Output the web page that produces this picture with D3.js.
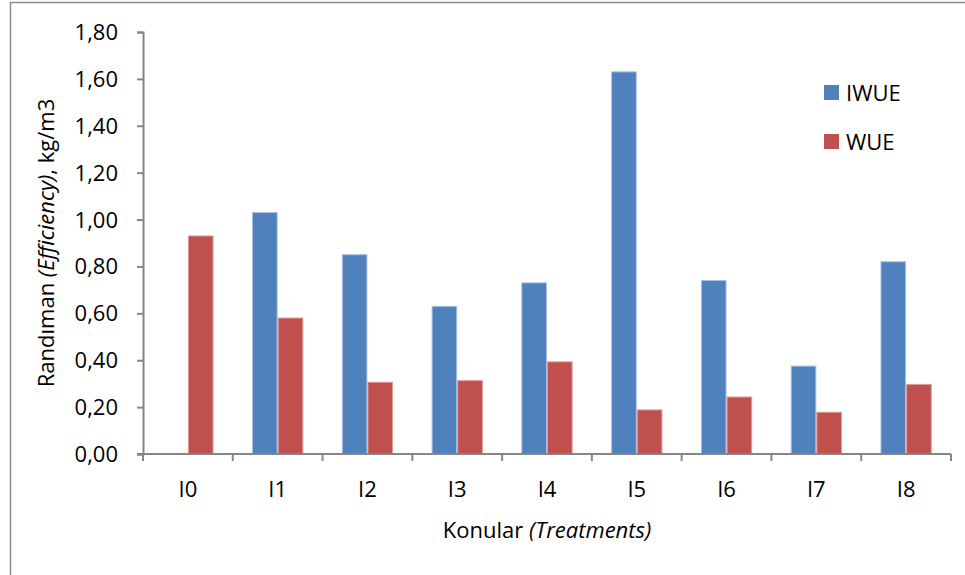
<!DOCTYPE html>
<html>
<head>
<meta charset="UTF-8">
<title>IWUE / WUE</title>
<script src="https://cdn.jsdelivr.net/npm/d3@7"></script>
<style>
  body { margin: 0; background: #fff; }
  svg text { font-family: "Open Sans", "Noto Sans", sans-serif; fill: #000; }
</style>
</head>
<body>
<script>
  // treatments and the two efficiency series (kg/m3)
  const treatments = ["I0", "I1", "I2", "I3", "I4", "I5", "I6", "I7", "I8"];
  const seriesNames = ["IWUE", "WUE"];
  const iwue = [null, 1.03, 0.85, 0.63, 0.73, 1.63, 0.74, 0.375, 0.82];
  const wue = [0.93, 0.58, 0.306, 0.313, 0.393, 0.188, 0.243, 0.178, 0.297];
  const yTicks = [0, 0.2, 0.4, 0.6, 0.8, 1.0, 1.2, 1.4, 1.6, 1.8];

  const colors = { IWUE: "#4F81BD", WUE: "#C0504D" };
  const edges = { IWUE: "#a9c1e0", WUE: "#dd9c9a" };

  const w = 965, h = 575;
  const plotL = 143, plotR = 951, plotT = 32, plotB = 454;
  const fs = "22px";

  // one row per treatment, built from the arrays above
  const rows = treatments.map((t, i) => ({ t: t, IWUE: iwue[i], WUE: wue[i] }));

  const svg = d3.select("body").append("svg")
    .attr("width", w)
    .attr("height", h);

  // outer chart frame (runs off the right and bottom of the picture)
  svg.append("rect")
    .attr("x", 10.5).attr("y", 2.5)
    .attr("width", 1000).attr("height", 1000)
    .style("fill", "none")
    .style("stroke", "#8c8c8c")
    .style("stroke-width", 1.5);

  const x = d3.scaleBand().domain(treatments).range([plotL, plotR]);
  const bw = x.bandwidth();
  // Excel style gap width of 150%
  const gap = bw * 1.5 / 3.5;
  const xSub = d3.scaleBand().domain(seriesNames).range([gap / 2, bw - gap / 2]);
  const y = d3.scaleLinear().domain([0, 1.8]).range([plotB, plotT]);

  // bars
  const groups = svg.selectAll("g.grp")
    .data(rows)
    .enter().append("g")
    .attr("class", "grp")
    .attr("transform", d => "translate(" + x(d.t) + ",0)");

  groups.selectAll("rect")
    .data(d => seriesNames.map(s => ({ s: s, v: d[s] })).filter(o => o.v != null))
    .enter().append("rect")
    .attr("x", d => xSub(d.s) + 0.5)
    .attr("width", xSub.bandwidth() - 1)
    .attr("y", d => y(d.v))
    .attr("height", d => plotB - y(d.v))
    .style("fill", d => colors[d.s])
    .style("stroke", d => edges[d.s])
    .style("stroke-width", 1);

  // y axis
  const yAxis = d3.axisLeft(y)
    .tickValues(yTicks)
    .tickSize(6)
    .tickPadding(19)
    .tickFormat(d => d3.format(".2f")(d).replace(".", ","));

  const gy = svg.append("g")
    .attr("transform", "translate(" + plotL + ",0)")
    .call(yAxis);
  gy.select(".domain").attr("stroke", "#868686").attr("stroke-width", 2);
  gy.selectAll(".tick line").attr("stroke", "#868686").attr("stroke-width", 2);
  gy.selectAll(".tick text").style("font-size", fs).attr("dy", "0.34em");

  // x axis: ticks sit on the band edges, labels in the middle
  svg.append("line")
    .attr("x1", plotL - 6).attr("x2", plotR)
    .attr("y1", plotB).attr("y2", plotB)
    .attr("stroke", "#868686").attr("stroke-width", 2);

  const edgesX = treatments.map(t => x(t)).concat([plotR]);
  svg.selectAll("line.xt")
    .data(edgesX)
    .enter().append("line")
    .attr("class", "xt")
    .attr("x1", d => d).attr("x2", d => d)
    .attr("y1", plotB).attr("y2", plotB + 7)
    .attr("stroke", "#868686").attr("stroke-width", 2);

  svg.selectAll("text.xl")
    .data(treatments)
    .enter().append("text")
    .attr("class", "xl")
    .attr("x", d => x(d) + bw / 2)
    .attr("y", 497)
    .attr("text-anchor", "middle")
    .style("font-size", fs)
    .text(d => d);

  // axis titles
  const xt = svg.append("text")
    .attr("x", (plotL + plotR) / 2)
    .attr("y", 538)
    .attr("text-anchor", "middle")
    .style("font-size", fs);
  xt.append("tspan").text("Konular ");
  xt.append("tspan").style("font-style", "italic").text("(Treatments)");

  const yt = svg.append("text")
    .attr("transform", "translate(54," + ((plotT + plotB) / 2) + ") rotate(-90)")
    .attr("text-anchor", "middle")
    .style("font-size", fs);
  yt.append("tspan").text("Randıman ");
  yt.append("tspan").style("font-style", "italic").text("(Efficiency)");
  yt.append("tspan").text(", kg/m3");

  // legend
  const legend = svg.append("g").attr("transform", "translate(824,85)");
  seriesNames.forEach((s, i) => {
    legend.append("rect")
      .attr("x", 0).attr("y", i * 49)
      .attr("width", 15).attr("height", 15)
      .style("fill", colors[s]);
    legend.append("text")
      .attr("x", 22).attr("y", i * 49 + 16)
      .style("font-size", fs)
      .text(s);
  });
</script>
</body>
</html>
